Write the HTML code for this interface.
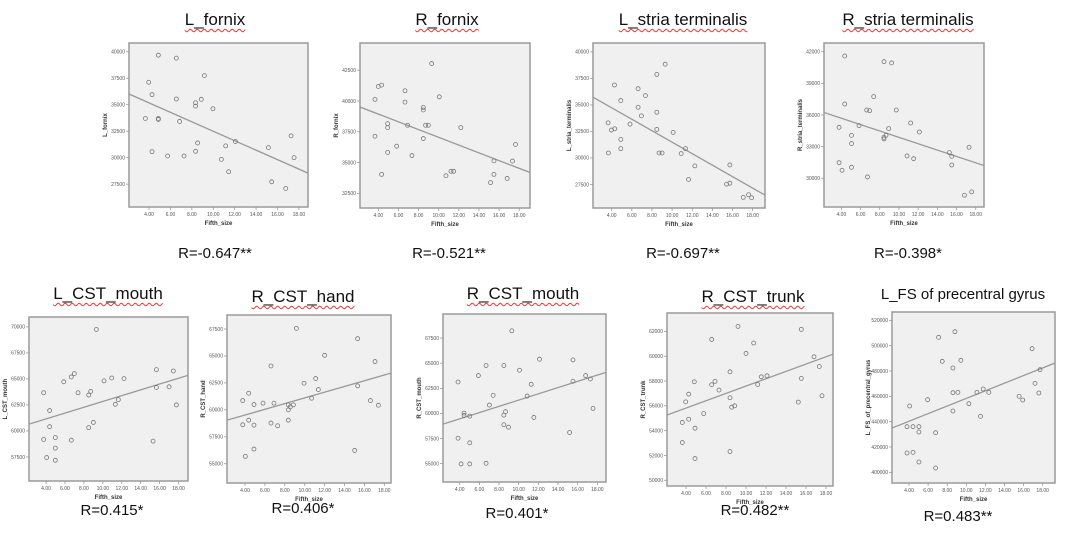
<!DOCTYPE html>
<html><head><meta charset="utf-8">
<style>
html,body{margin:0;padding:0;background:#fff;}
#wrap{position:relative;width:1076px;height:536px;overflow:hidden;font-family:"Liberation Sans",sans-serif;}
.ttl{position:absolute;transform:translateX(-50%);white-space:nowrap;font-size:17px;color:#111;text-decoration:underline wavy #e33;text-decoration-thickness:1px;text-underline-offset:3px;}
.ttl.plain{text-decoration:none;font-size:15px;}
.rlab{position:absolute;transform:translateX(-50%);white-space:nowrap;font-size:15px;color:#111;}
svg{position:absolute;left:0;top:0;}
</style></head>
<body>
<div id="wrap">
<div class="ttl" style="left:215px;top:10px">L_fornix</div>
<div class="ttl" style="left:447px;top:10px">R_fornix</div>
<div class="ttl" style="left:683px;top:10px">L_stria terminalis</div>
<div class="ttl" style="left:908px;top:10px">R_stria terminalis</div>
<div class="ttl" style="left:108px;top:284px">L_CST_mouth</div>
<div class="ttl" style="left:303px;top:287px">R_CST_hand</div>
<div class="ttl" style="left:523px;top:284px">R_CST_mouth</div>
<div class="ttl" style="left:753px;top:287px">R_CST_trunk</div>
<div class="ttl plain" style="left:963px;top:286px">L_FS of precentral gyrus</div>
<div class="rlab" style="left:215px;top:245px">R=-0.647**</div>
<div class="rlab" style="left:449px;top:245px">R=-0.521**</div>
<div class="rlab" style="left:683px;top:245px">R=-0.697**</div>
<div class="rlab" style="left:908px;top:245px">R=-0.398*</div>
<div class="rlab" style="left:112px;top:502px">R=0.415*</div>
<div class="rlab" style="left:303px;top:500px">R=0.406*</div>
<div class="rlab" style="left:517px;top:505px">R=0.401*</div>
<div class="rlab" style="left:755px;top:502px">R=0.482**</div>
<div class="rlab" style="left:958px;top:508px">R=0.483**</div>
<svg id="chart" width="1076" height="536"></svg>
</div>
<script>
const xTicks=[4,6,8,10,12,14,16,18];
const lFornixX=[4.87,6.55,3.97,9.17,4.28,6.55,8.35,8.35,8.88,9.97,3.66,4.87,4.87,6.86,8.54,11.16,12.07,4.28,5.74,7.27,8.35,10.76,11.44,15.15,17.27,17.55,15.46,16.77];
const lFornixY=[39680,39400,37120,37750,35950,35540,35190,34870,35510,34620,33700,33700,33610,33420,31390,31110,31520,30570,30160,30160,30600,29840,28670,30950,32060,30000,27720,27090];
const lFornixTicks=[27500,30000,32500,35000,37500,40000];
const rFornixX=[3.67,4.0,4.33,6.65,6.65,9.3,10.06,8.47,8.47,3.67,4.93,4.93,6.91,8.7,8.97,8.47,12.2,5.82,4.93,7.34,4.33,10.72,11.22,11.49,15.49,15.49,15.15,16.8,17.33,17.63];
const rFornixY=[40130,41180,41290,40830,39910,43040,40340,39480,39270,37140,38160,37840,38030,38030,38030,36950,37840,36330,35820,35570,34040,33930,34290,34290,35140,34040,33370,33710,35120,36470];
const rFornixTicks=[32500,35000,37500,40000,42500];
const lStriaX=[3.64,3.97,4.3,3.67,4.27,4.9,4.9,4.9,5.82,6.62,6.62,6.95,7.35,8.48,9.31,8.48,8.48,8.7,9.0,10.1,10.9,11.33,12.26,11.63,15.74,15.41,15.74,17.07,17.6,17.9];
const lStriaY=[33310,32630,32750,30470,36880,35410,31750,30880,33190,36530,34780,33970,35880,37880,38840,34310,32690,30470,30470,32410,30410,30880,29250,27970,29340,27530,27620,26280,26530,26250];
const lStriaTicks=[27500,30000,32500,35000,37500,40000];
const rStriaX=[4.35,8.44,9.24,7.37,4.35,6.64,6.95,9.72,3.76,5.84,8.93,11.22,12.13,5.06,5.06,8.44,8.44,8.65,3.76,4.07,5.06,6.72,10.84,11.53,15.25,15.5,17.3,15.5,16.82,17.58];
const rStriaY=[41590,41050,40930,37740,37040,36470,36410,36470,34830,34990,34710,35240,34390,34070,33290,33880,33730,34070,31480,30760,31040,30130,32120,31860,32430,32080,32940,31260,28390,28710];
const rStriaTicks=[30000,33000,36000,39000,42000];
const lCstMouthX=[3.75,4.38,4.38,3.75,4.07,4.98,4.98,4.98,5.87,6.67,6.99,7.38,6.67,8.51,8.72,8.51,9.0,9.31,10.13,10.94,12.24,11.32,11.64,15.31,15.66,15.66,17.0,17.45,17.77];
const lCstMouthY=[63670,61960,60410,59180,57440,59370,58350,57180,64720,65190,65510,63670,59110,63450,63800,60320,60820,69750,64810,65090,65030,62560,63010,59020,65890,64180,64240,65760,62500];
const lCstMouthTicks=[57500,60000,62500,65000,67500,70000];
const rCstHandX=[9.16,15.32,12.0,17.06,6.61,11.1,9.93,15.32,11.37,4.37,3.77,10.7,4.9,5.81,6.91,8.35,8.55,8.86,8.35,16.6,17.4,4.37,8.35,3.77,4.9,6.61,7.28,4.9,4.03,15.02];
const rCstHandY=[67560,66600,65060,64480,64070,62900,62470,62220,61880,61540,60860,61080,60490,60620,60620,60460,60280,60460,60000,60860,60430,59040,59040,58610,58580,58770,58520,56360,55680,56230];
const rCstHandTicks=[55000,57500,60000,62500,65000,67500];
const rCstMouthX=[9.3,12.12,15.52,6.68,8.49,10.08,5.9,16.81,17.29,3.83,15.52,11.27,7.4,10.86,7.02,4.44,4.44,5.02,8.49,8.66,11.54,8.49,8.96,17.56,3.83,5.02,15.18,4.14,5.02,6.68];
const rCstMouthY=[68230,65400,65330,64770,64770,64300,63770,63770,63430,63130,63200,62900,61800,61730,60830,60030,59800,59730,59830,60170,59600,58870,58630,60500,57530,57070,58100,54970,54970,55030];
const rCstMouthTicks=[55000,57500,60000,62500,65000,67500];
const rCstTrunkX=[9.2,15.53,6.57,10.77,10.0,16.8,17.33,8.4,11.53,12.1,15.53,4.83,6.9,6.57,11.17,7.3,4.27,17.6,8.4,3.97,15.23,8.87,8.57,5.77,4.27,3.63,4.9,3.63,8.4,4.9];
const rCstTrunkY=[62400,62160,61350,61060,60220,59950,59170,58740,58340,58420,58210,57940,57970,57700,57720,57270,56940,56810,56650,56320,56300,56000,55890,55380,54920,54660,54200,53040,52320,51750];
const rCstTrunkTicks=[50000,52000,54000,56000,58000,60000,62000];
const lFsX=[8.81,7.1,16.89,7.48,9.43,8.6,17.72,17.2,11.77,8.6,9.12,11.11,12.36,17.6,15.53,15.91,5.95,10.27,4.07,8.6,11.49,3.79,4.42,5.04,5.04,6.79,3.79,4.42,5.04,6.79];
const lFsY=[511050,506580,497630,487630,488420,482370,481050,470260,465780,462890,463150,463150,463150,462630,459990,457100,457360,454200,452360,448410,444200,436040,436040,436040,431830,431300,415250,415780,408140,403400];
const lFsTicks=[400000,420000,440000,460000,480000,500000,520000];

const panels=[
 {n:'l-fornix',lab:'L_fornix',xs:lFornixX,ys:lFornixY,yt:lFornixTicks,b:[129,43,308,207],xd:[2.13,18.85],yd:[25340,40830]},
 {n:'r-fornix',lab:'R_fornix',xs:rFornixX,ys:rFornixY,yt:rFornixTicks,b:[360,43,530,208],xd:[2.18,19.07],yd:[31310,44710]},
 {n:'l-stria',lab:'L_stria_terminalis',xs:lStriaX,ys:lStriaY,yt:lStriaTicks,b:[593,43,765,208],xd:[2.14,19.23],yd:[25280,40840]},
 {n:'r-stria',lab:'R_stria_terminalis',xs:rStriaX,ys:rStriaY,yt:rStriaTicks,b:[824,43,984,207],xd:[2.19,18.86],yd:[27280,42820]},
 {n:'l-cst-mouth',lab:'L_CST_mouth',xs:lCstMouthX,ys:lCstMouthY,yt:lCstMouthTicks,b:[29,317,188,481],xd:[2.2,19.0],yd:[55190,70950]},
 {n:'r-cst-hand',lab:'R_CST_hand',xs:rCstHandX,ys:rCstHandY,yt:rCstHandTicks,b:[227,315,391,483],xd:[2.19,18.67],yd:[53210,68800]},
 {n:'r-cst-mouth',lab:'R_CST_mouth',xs:rCstMouthX,ys:rCstMouthY,yt:rCstMouthTicks,b:[443,314,606,482],xd:[2.3,18.88],yd:[53170,69900]},
 {n:'r-cst-trunk',lab:'R_CST_trunk',xs:rCstTrunkX,ys:rCstTrunkY,yt:rCstTrunkTicks,b:[667,313,833,486],xd:[2.1,18.7],yd:[49540,63480]},
 {n:'l-fs',lab:'L_FS_of_precentral_gyrus',xs:lFsX,ys:lFsY,yt:lFsTicks,b:[892,312,1055,483],xd:[2.22,19.29],yd:[391580,526580]}
];
const svg=document.getElementById('chart');
const NS='http://www.w3.org/2000/svg';
function mk(t,a,p){const e=document.createElementNS(NS,t);for(const k in a)e.setAttribute(k,a[k]);p.appendChild(e);return e;}
panels.forEach(P=>{
 const [x0,y0,x1,y1]=P.b;
 const sx=v=>x0+(v-P.xd[0])/(P.xd[1]-P.xd[0])*(x1-x0);
 const sy=v=>y1-(v-P.yd[0])/(P.yd[1]-P.yd[0])*(y1-y0);
 const g=mk('g',{},svg);
 
 
 const cid='clip-'+P.n;
 const cp=mk('clipPath',{id:cid},g);mk('rect',{x:x0,y:y0,width:x1-x0,height:y1-y0},cp);
 const bg=mk('rect',{x:x0,y:y0,width:x1-x0,height:y1-y0,fill:'#f0f0f0',stroke:'#9a9a9a','stroke-width':1.5},g);
 
 
 xTicks.forEach(t=>{
  const X=sx(t);
  mk('line',{x1:X,x2:X,y1:y1,y2:y1+3,stroke:'#999','stroke-width':0.8},g);
  const tx=mk('text',{x:X,y:y1+9,'font-size':5,'text-anchor':'middle',fill:'#555'},g);
  tx.textContent=t.toFixed(2);
  
  
 });
 P.yt.forEach(t=>{
  const Y=sy(t);
  mk('line',{x1:x0-3,x2:x0,y1:Y,y2:Y,stroke:'#999','stroke-width':0.8},g);
  const tx=mk('text',{x:x0-4,y:Y+1.8,'font-size':5,'text-anchor':'end',fill:'#555'},g);
  tx.textContent=String(t);
  
  
 });
 const xl=mk('text',{x:(x0+x1)/2,y:y1+18,'font-size':6,'font-weight':'bold','text-anchor':'middle',fill:'#333'},g);
 xl.textContent='Fifth_size';
 
 
 const yl=mk('text',{x:0,y:0,'font-size':6,'font-weight':'bold','text-anchor':'middle',fill:'#333',transform:`translate(${x0-22},${(y0+y1)/2}) rotate(-90)`},g);
 yl.textContent=P.lab;
 
 
 // least squares fit line
 const n=P.xs.length;let mx=0,my=0;P.xs.forEach((v,i)=>{mx+=v;my+=P.ys[i];});mx/=n;my/=n;
 let sxy=0,sxx=0;P.xs.forEach((v,i)=>{sxy+=(v-mx)*(P.ys[i]-my);sxx+=(v-mx)*(v-mx);});
 const m=sxy/sxx,c=my-m*mx;
 const ln=mk('line',{x1:sx(P.xd[0]),y1:sy(m*P.xd[0]+c),x2:sx(P.xd[1]),y2:sy(m*P.xd[1]+c),stroke:'#999','stroke-width':1.3,'clip-path':`url(#${cid})`},g);
 
 
 P.xs.forEach((v,i)=>{
  const c1=mk('circle',{cx:sx(v),cy:sy(P.ys[i]),r:2,fill:'none',stroke:'#777','stroke-width':0.8},g);
  
  
 });
});
</script>
</body></html>
